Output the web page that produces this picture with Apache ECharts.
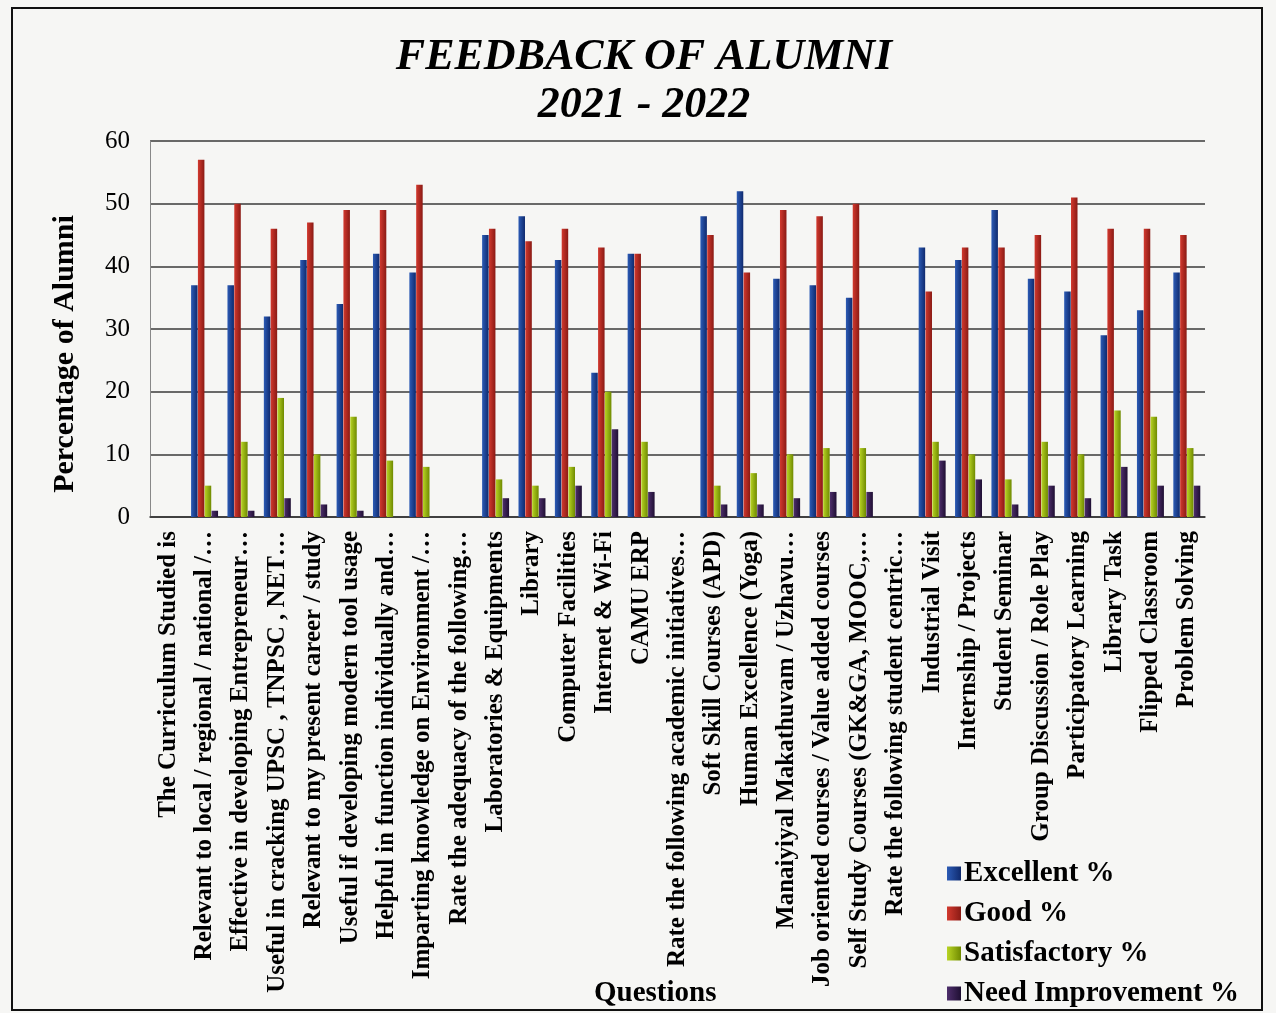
<!DOCTYPE html>
<html>
<head>
<meta charset="utf-8">
<script src="https://cdn.jsdelivr.net/npm/echarts@6/dist/echarts.min.js"></script>
<style>
  html, body { margin: 0; padding: 0; background: #f6f6f4; }
  #chart { width: 1276px; height: 1013px; }
</style>
</head>
<body>
<div id="chart"></div>
<script>
const questions = [
  'The Curriculum Studied is',
  'Relevant to local / regional / national /…',
  'Effective in developing Entrepreneur…',
  'Useful in cracking UPSC , TNPSC , NET…',
  'Relevant to my present career / study',
  'Useful if developing modern tool usage',
  'Helpful in function individually and…',
  'Imparting knowledge on Environment /…',
  'Rate the adequacy of the following…',
  'Laboratories & Equipments',
  'Library',
  'Computer Facilities',
  'Internet & Wi-Fi',
  'CAMU ERP',
  'Rate the following academic initiatives…',
  'Soft Skill Courses (APD)',
  'Human Excellence (Yoga)',
  'Manaiyiyal Makathuvam / Uzhavu…',
  'Job oriented courses / Value added courses',
  'Self Study Courses (GK&GA, MOOC,…',
  'Rate the following student centric…',
  'Industrial Visit',
  'Internship / Projects',
  'Student Seminar',
  'Group Discussion / Role Play',
  'Participatory Learning',
  'Library Task',
  'Flipped Classroom',
  'Problem Solving'
];

const excellent    = [null, 37, 37, 32, 41, 34, 42, 39, null, 45, 48, 41, 23, 42, null, 48, 52, 38, 37, 35, null, 43, 41, 49, 38, 36, 29, 33, 39];
const good         = [null, 57, 50, 46, 47, 49, 49, 53, null, 46, 44, 46, 43, 42, null, 45, 39, 49, 48, 50, null, 36, 43, 43, 45, 51, 46, 46, 45];
const satisfactory = [null, 5, 12, 19, 10, 16, 9, 8, null, 6, 5, 8, 20, 12, null, 5, 7, 10, 11, 11, null, 12, 10, 6, 12, 10, 17, 16, 11];
const needImprove  = [null, 1, 1, 3, 2, 1, 0, 0, null, 3, 3, 5, 14, 4, null, 2, 2, 3, 4, 4, null, 9, 6, 2, 5, 3, 8, 5, 5];

const seriesNames = ['Excellent %', 'Good %', 'Satisfactory %', 'Need Improvement %'];
const seriesData = [excellent, good, satisfactory, needImprove];
const colors = [
  ['#0f2a6e', '#2c5bb5'],
  ['#8a1a14', '#d2392e'],
  ['#6f8a00', '#b8d424'],
  ['#1f0f33', '#4d2e6b']
];

const font = '"Liberation Serif", "Times New Roman", serif';
const chart = echarts.init(document.getElementById('chart'));

chart.setOption({
  backgroundColor: '#f6f6f4',
  animation: false,
  textStyle: { fontFamily: font, color: '#000' },
  graphic: [{
    type: 'rect',
    shape: { x: 12, y: 8, width: 1250, height: 1002 },
    style: { fill: 'none', stroke: '#111', lineWidth: 2 }
  }, {
    type: 'text',
    x: 644,
    y: 58,
    style: {
      text: 'FEEDBACK OF ALUMNI', font: 'italic bold 44px ' + font, fill: '#000',
      align: 'center', verticalAlign: 'middle'
    }
  }, {
    type: 'text',
    x: 644,
    y: 106,
    style: {
      text: '2021 - 2022', font: 'italic bold 44px ' + font, fill: '#000',
      align: 'center', verticalAlign: 'middle'
    }
  }, {
    type: 'text',
    left: 594,
    top: 979,
    style: { text: 'Questions', font: 'bold 29px ' + font, fill: '#000' }
  }, {
    type: 'text',
    x: 65,
    y: 354,
    rotation: Math.PI / 2,
    style: {
      text: 'Percentage of Alumni', font: 'bold 30px ' + font, fill: '#000',
      align: 'center', verticalAlign: 'middle'
    }
  }],
  legend: {
    orient: 'vertical',
    left: 942,
    top: 854,
    itemWidth: 14,
    itemHeight: 14,
    itemGap: 11,
    icon: 'rect',
    textStyle: { fontFamily: font, fontSize: 29, fontWeight: 'bold', color: '#000', padding: [0, 0, 0, -2] }
  },
  grid: { left: 150, right: 71, top: 141, bottom: 496 },
  xAxis: {
    type: 'category',
    data: questions,
    axisLine: { lineStyle: { color: '#333', width: 1.5 } },
    axisTick: { show: false },
    axisLabel: {
      interval: 0, rotate: 90, margin: 14,
      fontFamily: font, fontSize: 25, fontWeight: 'bold', color: '#000'
    }
  },
  yAxis: {
    type: 'value',
    min: 0, max: 60, interval: 10,
    axisLine: { show: true, lineStyle: { color: '#888', width: 1 } },
    axisTick: { show: false },
    axisLabel: { fontFamily: font, fontSize: 25, color: '#000', margin: 20 },
    splitLine: { lineStyle: { color: '#3a3a3a', width: 1.5 } }
  },
  series: seriesNames.map((name, i) => ({
    name: name,
    type: 'bar',
    data: seriesData[i],
    barWidth: 6.5,
    barGap: '5%',
    itemStyle: {
      color: new echarts.graphic.LinearGradient(0, 0, 1, 0, [
        { offset: 0, color: colors[i][1] },
        { offset: 1, color: colors[i][0] }
      ])
    }
  }))
});
</script>
</body>
</html>
